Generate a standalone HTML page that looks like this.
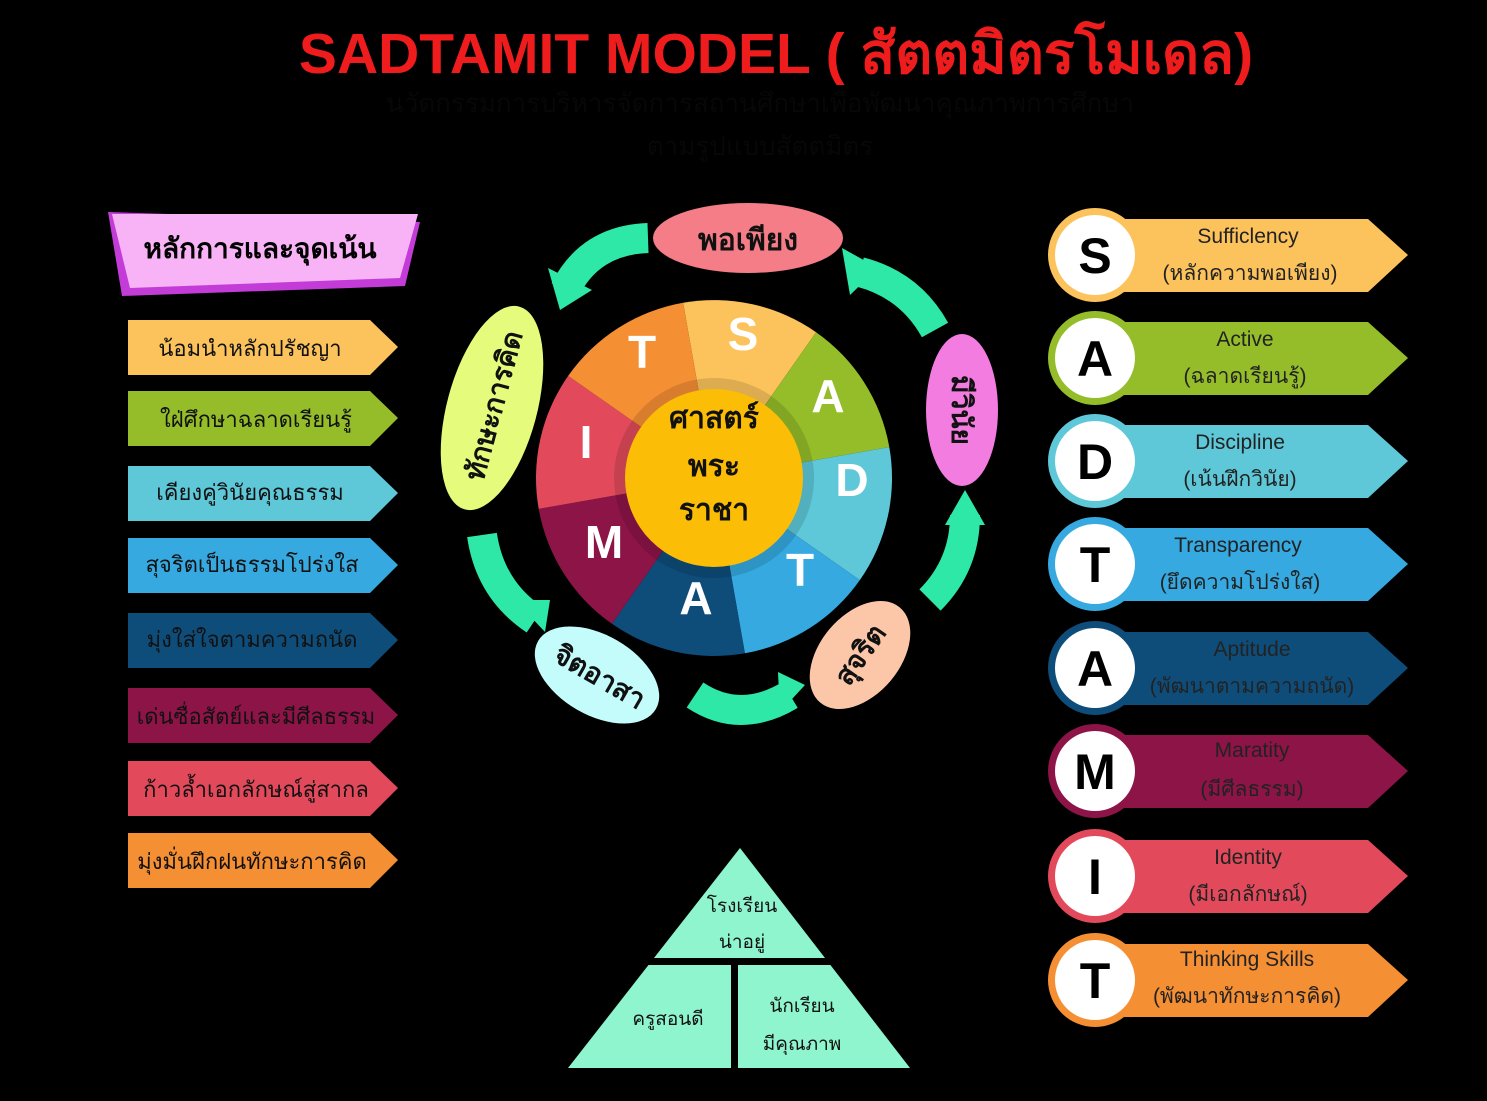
<!DOCTYPE html>
<html><head><meta charset="utf-8"><style>
html,body{margin:0;padding:0;background:#000;}
svg{display:block;}
text{font-family:"Liberation Sans","DejaVu Sans",sans-serif;}
</style></head><body>
<svg width="1487" height="1101" viewBox="0 0 1487 1101" xmlns="http://www.w3.org/2000/svg">
<rect width="1487" height="1101" fill="#000"/>
<text x="776" y="73" text-anchor="middle" font-size="57" font-weight="bold" fill="#ee1c1c">SADTAMIT MODEL ( สัตตมิตรโมเดล)</text>
<text x="760" y="112" text-anchor="middle" font-size="26" fill="#070707">นวัตกรรมการบริหารจัดการสถานศึกษาเพื่อพัฒนาคุณภาพการศึกษา</text>
<text x="760" y="155" text-anchor="middle" font-size="26" fill="#070707">ตามรูปแบบสัตตมิตร</text>

<!-- left title -->
<polygon points="108,212 420,222 405,286 122,296" fill="#c33cd8"/>
<polygon points="112,214 418,214 400,278 130,288" fill="#f7b3f5"/>
<text x="260" y="258" text-anchor="middle" font-size="28" font-weight="bold" fill="#000">หลักการและจุดเน้น</text>

<g font-size="22" fill="#111">
<polygon points="128,320 370,320 398,347 370,375 128,375" fill="#fcc35c"/><text x="250" y="356" text-anchor="middle">น้อมนำหลักปรัชญา</text>
<polygon points="128,391 370,391 398,418 370,446 128,446" fill="#95bd2a"/><text x="256" y="427" text-anchor="middle">ใฝ่ศึกษาฉลาดเรียนรู้</text>
<polygon points="128,466 370,466 398,493 370,521 128,521" fill="#5ec8d8"/><text x="250" y="500" text-anchor="middle">เคียงคู่วินัยคุณธรรม</text>
<polygon points="128,538 370,538 398,565 370,593 128,593" fill="#35a9e0"/><text x="252" y="572" text-anchor="middle">สุจริตเป็นธรรมโปร่งใส</text>
<polygon points="128,613 370,613 398,640 370,668 128,668" fill="#0e4d7a"/><text x="252" y="647" text-anchor="middle">มุ่งใส่ใจตามความถนัด</text>
<polygon points="128,688 370,688 398,715 370,743 128,743" fill="#8c1447"/><text x="256" y="724" text-anchor="middle">เด่นซื่อสัตย์และมีศีลธรรม</text>
<polygon points="128,761 370,761 398,788 370,816 128,816" fill="#e24a5c"/><text x="256" y="797" text-anchor="middle">ก้าวล้ำเอกลักษณ์สู่สากล</text>
<polygon points="128,833 370,833 398,860 370,888 128,888" fill="#f58f34"/><text x="252" y="869" text-anchor="middle">มุ่งมั่นฝึกฝนทักษะการคิด</text>
</g>

<!-- wheel -->
<g transform="translate(714,478)">
<path d="M0,0 L-30.9,-175.2 A178,178 0 0 1 102.1,-145.8 Z" fill="#fcc35c"/>
<path d="M0,0 L102.1,-145.8 A178,178 0 0 1 175.3,-30.9 Z" fill="#95bd2a"/>
<path d="M0,0 L175.3,-30.9 A178,178 0 0 1 145.8,102.1 Z" fill="#5ec8d8"/>
<path d="M0,0 L145.8,102.1 A178,178 0 0 1 30.9,175.3 Z" fill="#35a9e0"/>
<path d="M0,0 L30.9,175.3 A178,178 0 0 1 -102.1,145.8 Z" fill="#0e4d7a"/>
<path d="M0,0 L-102.1,145.8 A178,178 0 0 1 -175.3,30.9 Z" fill="#8c1447"/>
<path d="M0,0 L-175.3,30.9 A178,178 0 0 1 -145.8,-102.1 Z" fill="#e24a5c"/>
<path d="M0,0 L-145.8,-102.1 A178,178 0 0 1 -30.9,-175.3 Z" fill="#f58f34"/>
<circle r="100" fill="#000" opacity="0.12"/>
<circle r="89" fill="#fbbd05"/>
<g font-size="30" font-weight="bold" fill="#111" text-anchor="middle">
<text y="-50">ศาสตร์</text><text y="-2">พระ</text><text y="42">ราชา</text></g>
<g font-size="46" font-weight="bold" fill="#fff" text-anchor="middle">
<text x="29" y="-128">S</text><text x="114" y="-66">A</text><text x="138" y="18">D</text><text x="86" y="108">T</text>
<text x="-18" y="136">A</text><text x="-110" y="80">M</text><text x="-128" y="-20">I</text><text x="-72" y="-110">T</text></g>
</g>

<!-- green arrows -->
<g fill="none" stroke="#2ee8a8" stroke-width="30">
<path d="M648,238 Q590,240 565,290"/>
<path d="M935,330 Q910,285 860,272"/>
<path d="M930,600 Q965,565 965,515"/>
<path d="M695,695 Q740,725 790,695"/>
<path d="M482,535 Q490,590 535,620"/>
</g>
<g fill="#2ee8a8">
<polygon points="548,268 592,290 560,310"/>
<polygon points="842,248 878,268 850,295"/>
<polygon points="985,525 945,525 965,490"/>
<polygon points="778,672 805,685 780,712"/>
<polygon points="515,600 550,600 545,632"/>
</g>

<!-- ovals -->
<ellipse cx="748" cy="238" rx="95" ry="35" fill="#f47d87"/>
<text x="748" y="250" text-anchor="middle" font-size="30" font-weight="bold" fill="#111">พอเพียง</text>
<ellipse cx="492" cy="408" rx="45" ry="105" transform="rotate(15 492 408)" fill="#e4fb7c"/>
<text transform="translate(503,408) rotate(-75)" text-anchor="middle" font-size="28" font-weight="bold" fill="#111">ทักษะการคิด</text>
<ellipse cx="962" cy="410" rx="36" ry="76" fill="#f27ce0"/>
<text transform="translate(952,410) rotate(90)" text-anchor="middle" font-size="28" font-weight="bold" fill="#111">มีวินัย</text>
<ellipse cx="860" cy="655" rx="40" ry="62" transform="rotate(40 860 655)" fill="#fbc7a8"/>
<text transform="translate(868,660) rotate(-55)" text-anchor="middle" font-size="28" font-weight="bold" fill="#111">สุจริต</text>
<ellipse cx="597" cy="675" rx="68" ry="40" transform="rotate(30 597 675)" fill="#c4fbfb"/>
<text transform="translate(595,685) rotate(30)" text-anchor="middle" font-size="28" font-weight="bold" fill="#111">จิตอาสา</text>

<!-- right banners -->
<g font-size="21" fill="#222" text-anchor="middle">
<g><polygon points="1100,219 1368,219 1408,255 1368,292 1100,292" fill="#fcc35c"/><circle cx="1095" cy="255" r="47" fill="#fcc35c"/><circle cx="1095" cy="255" r="40" fill="#fff"/><text x="1095" y="273" font-size="50" font-weight="bold" fill="#000">S</text><text x="1248" y="243">Sufficlency</text><text x="1250" y="280">(หลักความพอเพียง)</text></g>
<g transform="translate(0,103)"><polygon points="1100,219 1368,219 1408,255 1368,292 1100,292" fill="#95bd2a"/><circle cx="1095" cy="255" r="47" fill="#95bd2a"/><circle cx="1095" cy="255" r="40" fill="#fff"/><text x="1095" y="273" font-size="50" font-weight="bold" fill="#000">A</text><text x="1245" y="243">Active</text><text x="1245" y="280">(ฉลาดเรียนรู้)</text></g>
<g transform="translate(0,206)"><polygon points="1100,219 1368,219 1408,255 1368,292 1100,292" fill="#5ec8d8"/><circle cx="1095" cy="255" r="47" fill="#5ec8d8"/><circle cx="1095" cy="255" r="40" fill="#fff"/><text x="1095" y="273" font-size="50" font-weight="bold" fill="#000">D</text><text x="1240" y="243">Discipline</text><text x="1240" y="280">(เน้นฝึกวินัย)</text></g>
<g transform="translate(0,309)"><polygon points="1100,219 1368,219 1408,255 1368,292 1100,292" fill="#35a9e0"/><circle cx="1095" cy="255" r="47" fill="#35a9e0"/><circle cx="1095" cy="255" r="40" fill="#fff"/><text x="1095" y="273" font-size="50" font-weight="bold" fill="#000">T</text><text x="1238" y="243">Transparency</text><text x="1240" y="280">(ยึดความโปร่งใส)</text></g>
<g transform="translate(0,413)"><polygon points="1100,219 1368,219 1408,255 1368,292 1100,292" fill="#0e4d7a"/><circle cx="1095" cy="255" r="47" fill="#0e4d7a"/><circle cx="1095" cy="255" r="40" fill="#fff"/><text x="1095" y="273" font-size="50" font-weight="bold" fill="#000">A</text><text x="1252" y="243">Aptitude</text><text x="1252" y="280">(พัฒนาตามความถนัด)</text></g>
<g transform="translate(0,516)"><polygon points="1100,219 1368,219 1408,255 1368,292 1100,292" fill="#8c1447"/><circle cx="1095" cy="255" r="47" fill="#8c1447"/><circle cx="1095" cy="255" r="40" fill="#fff"/><text x="1095" y="273" font-size="50" font-weight="bold" fill="#000">M</text><text x="1252" y="241">Maratity</text><text x="1252" y="280">(มีศีลธรรม)</text></g>
<g transform="translate(0,621)"><polygon points="1100,219 1368,219 1408,255 1368,292 1100,292" fill="#e24a5c"/><circle cx="1095" cy="255" r="47" fill="#e24a5c"/><circle cx="1095" cy="255" r="40" fill="#fff"/><text x="1095" y="273" font-size="50" font-weight="bold" fill="#000">I</text><text x="1248" y="243">Identity</text><text x="1248" y="280">(มีเอกลักษณ์)</text></g>
<g transform="translate(0,725)"><polygon points="1100,219 1368,219 1408,255 1368,292 1100,292" fill="#f58f34"/><circle cx="1095" cy="255" r="47" fill="#f58f34"/><circle cx="1095" cy="255" r="40" fill="#fff"/><text x="1095" y="273" font-size="50" font-weight="bold" fill="#000">T</text><text x="1247" y="241">Thinking Skills</text><text x="1247" y="278">(พัฒนาทักษะการคิด)</text></g>
</g>

<!-- pyramid -->
<polygon points="740,848 910,1068 568,1068" fill="#8ef5cf"/>
<rect x="560" y="958" width="360" height="7" fill="#000"/>
<rect x="731" y="962" width="7" height="110" fill="#000"/>
<g font-size="19" fill="#111" text-anchor="middle">
<text x="742" y="912">โรงเรียน</text><text x="742" y="948">น่าอยู่</text>
<text x="668" y="1025">ครูสอนดี</text>
<text x="802" y="1012">นักเรียน</text><text x="802" y="1050">มีคุณภาพ</text></g>
</svg>
</body></html>
